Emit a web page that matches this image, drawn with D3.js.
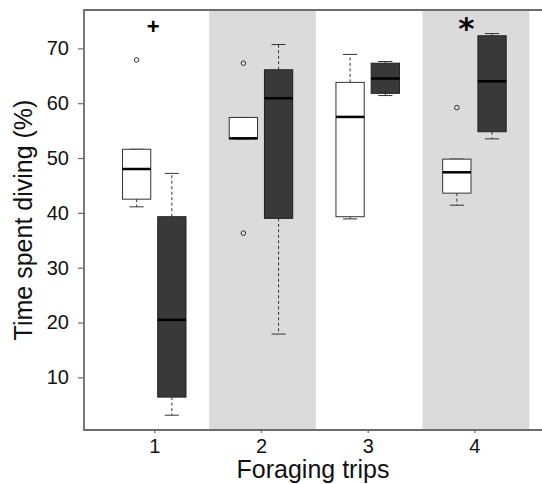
<!DOCTYPE html>
<html>
<head>
<meta charset="utf-8">
<script src="https://cdn.jsdelivr.net/npm/d3@7"></script>
<style>
  body { margin: 0; background: #fff; }
  text { font-family: "Liberation Sans", Arial, Helvetica, sans-serif; }
</style>
</head>
<body>
<div id="chart"></div>
<script>
// Data
var trips = [1, 2, 3, 4];
var yTicks = [10, 20, 30, 40, 50, 60, 70];
var sigLabels = ["+", "", "", "*"];

// open boxes (first group)
var openLow = [41.1, 53.5, 38.9, 41.4];
var openQ1 = [42.5, 53.5, 39.3, 43.6];
var openMedian = [48.0, 53.6, 57.5, 47.4];
var openQ3 = [51.6, 57.4, 63.8, 49.8];
var openHigh = [51.6, 57.4, 68.9, 49.8];
var openOutliers = [[67.9], [67.3, 36.3], [], [59.2]];

// filled boxes (second group)
var darkLow = [3.1, 17.9, 61.4, 53.5];
var darkQ1 = [6.4, 39.0, 61.8, 54.8];
var darkMedian = [20.5, 60.9, 64.5, 64.0];
var darkQ3 = [39.3, 66.1, 67.3, 72.3];
var darkHigh = [47.2, 70.7, 67.6, 72.7];
var darkOutliers = [[], [], [], []];

//Setup
var width = 542, height = 484;
var plot = { left: 84, right: 542, top: 10, bottom: 430 };
var boxOffset = 0.165, boxWidth = 0.265;

var x = d3.scaleLinear().domain([0.342, 4.633]).range([plot.left, plot.right]);
var y = d3.scaleLinear().domain([0.4, 77]).range([plot.bottom, plot.top]);

var svg = d3.select("#chart")
    .append("svg")
    .attr("width", width)
    .attr("height", height);

// shaded bands for even trips
svg.append("g").selectAll("rect")
    .data(trips.filter(t => t % 2 === 0))
    .enter().append("rect")
    .attr("x", d => x(d - 0.5) + 1.5)
    .attr("width", d => Math.min(x(d + 0.5), plot.right) - x(d - 0.5))
    .attr("y", plot.top)
    .attr("height", plot.bottom - plot.top)
    .attr("fill", "#dbdbdb");

function buildGroup(low, q1, med, q3, high, outl, offset, fill, stroke) {
    return trips.map((t, i) => ({
        pos: t + offset, low: low[i], q1: q1[i], med: med[i],
        q3: q3[i], high: high[i], outliers: outl[i], fill: fill, stroke: stroke
    }));
}

var boxes = buildGroup(openLow, openQ1, openMedian, openQ3, openHigh, openOutliers, -boxOffset, "#ffffff", "#333")
    .concat(buildGroup(darkLow, darkQ1, darkMedian, darkQ3, darkHigh, darkOutliers, boxOffset, "#393939", "#222"));

var bw = x(boxWidth) - x(0);
var cap = bw / 2;

var g = svg.append("g").selectAll("g.box")
    .data(boxes)
    .enter().append("g")
    .attr("class", "box");

// whiskers (dashed)
g.append("line")
    .attr("x1", d => x(d.pos)).attr("x2", d => x(d.pos))
    .attr("y1", d => y(d.q3)).attr("y2", d => y(d.high))
    .attr("stroke", "#333").attr("stroke-width", 1)
    .attr("stroke-dasharray", "3,2.5");
g.append("line")
    .attr("x1", d => x(d.pos)).attr("x2", d => x(d.pos))
    .attr("y1", d => y(d.q1)).attr("y2", d => y(d.low))
    .attr("stroke", "#333").attr("stroke-width", 1)
    .attr("stroke-dasharray", "3,2.5");
// caps
g.append("line")
    .attr("x1", d => x(d.pos) - cap / 2).attr("x2", d => x(d.pos) + cap / 2)
    .attr("y1", d => y(d.high)).attr("y2", d => y(d.high))
    .attr("stroke", "#333").attr("stroke-width", 1);
g.append("line")
    .attr("x1", d => x(d.pos) - cap / 2).attr("x2", d => x(d.pos) + cap / 2)
    .attr("y1", d => y(d.low)).attr("y2", d => y(d.low))
    .attr("stroke", "#333").attr("stroke-width", 1);
// box
g.append("rect")
    .attr("x", d => x(d.pos) - bw / 2)
    .attr("width", bw)
    .attr("y", d => y(d.q3))
    .attr("height", d => y(d.q1) - y(d.q3))
    .attr("fill", d => d.fill)
    .attr("stroke", d => d.stroke)
    .attr("stroke-width", 1);
// median
g.append("line")
    .attr("x1", d => x(d.pos) - bw / 2).attr("x2", d => x(d.pos) + bw / 2)
    .attr("y1", d => y(d.med)).attr("y2", d => y(d.med))
    .attr("stroke", "#000").attr("stroke-width", 2.5);
// outliers
g.selectAll("circle")
    .data(d => d.outliers.map(v => ({ pos: d.pos, v: v })))
    .enter().append("circle")
    .attr("cx", d => x(d.pos))
    .attr("cy", d => y(d.v))
    .attr("r", 2.3)
    .attr("fill", "none")
    .attr("stroke", "#333")
    .attr("stroke-width", 1);

// significance marks
svg.append("g").selectAll("text")
    .data(trips.map((t, i) => ({ t: t, s: sigLabels[i] })).filter(d => d.s))
    .enter().append("text")
    .attr("x", d => x(d.t) + (d.s === "*" ? -8 : -1))
    .attr("y", d => d.s === "*" ? 39 : 33.5)
    .attr("text-anchor", "middle")
    .attr("font-weight", "bold")
    .style("font-family", d => d.s === "*" ? "DejaVu Sans" : null)
    .attr("font-size", d => d.s === "*" ? 31 : 22)
    .text(d => d.s);

// axes
var yAxis = svg.append("g")
    .attr("transform", `translate(${plot.left},0)`)
    .call(d3.axisLeft(y).tickValues(yTicks).tickSize(6).tickPadding(9));
var xAxis = svg.append("g")
    .attr("transform", `translate(0,${plot.bottom})`)
    .call(d3.axisBottom(x).tickValues(trips).tickSize(3).tickPadding(6).tickFormat(d3.format("d")));

[yAxis, xAxis].forEach(a => {
    a.select(".domain").remove();
    a.selectAll("line").attr("stroke", "#6b6b6b").attr("stroke-width", 1.2);
    a.selectAll("text").attr("font-size", 20).attr("fill", "#111")
        .style("font-family", "'Liberation Sans', Arial, sans-serif");
});

// frame (left, top, bottom)
svg.append("path")
    .attr("d", `M${plot.right + 2},${plot.top}H${plot.left}V${plot.bottom}H${plot.right + 2}`)
    .attr("fill", "none")
    .attr("stroke", "#6b6b6b")
    .attr("stroke-width", 1.8);

// titles
svg.append("text")
    .attr("x", (plot.left + plot.right) / 2)
    .attr("y", 478)
    .attr("text-anchor", "middle")
    .attr("font-size", 25)
    .attr("fill", "#111")
    .text("Foraging trips");

svg.append("text")
    .attr("transform", `translate(32,${(plot.top + plot.bottom) / 2}) rotate(-90)`)
    .attr("text-anchor", "middle")
    .attr("font-size", 25)
    .attr("fill", "#111")
    .text("Time spent diving (%)");
</script>
</body>
</html>
